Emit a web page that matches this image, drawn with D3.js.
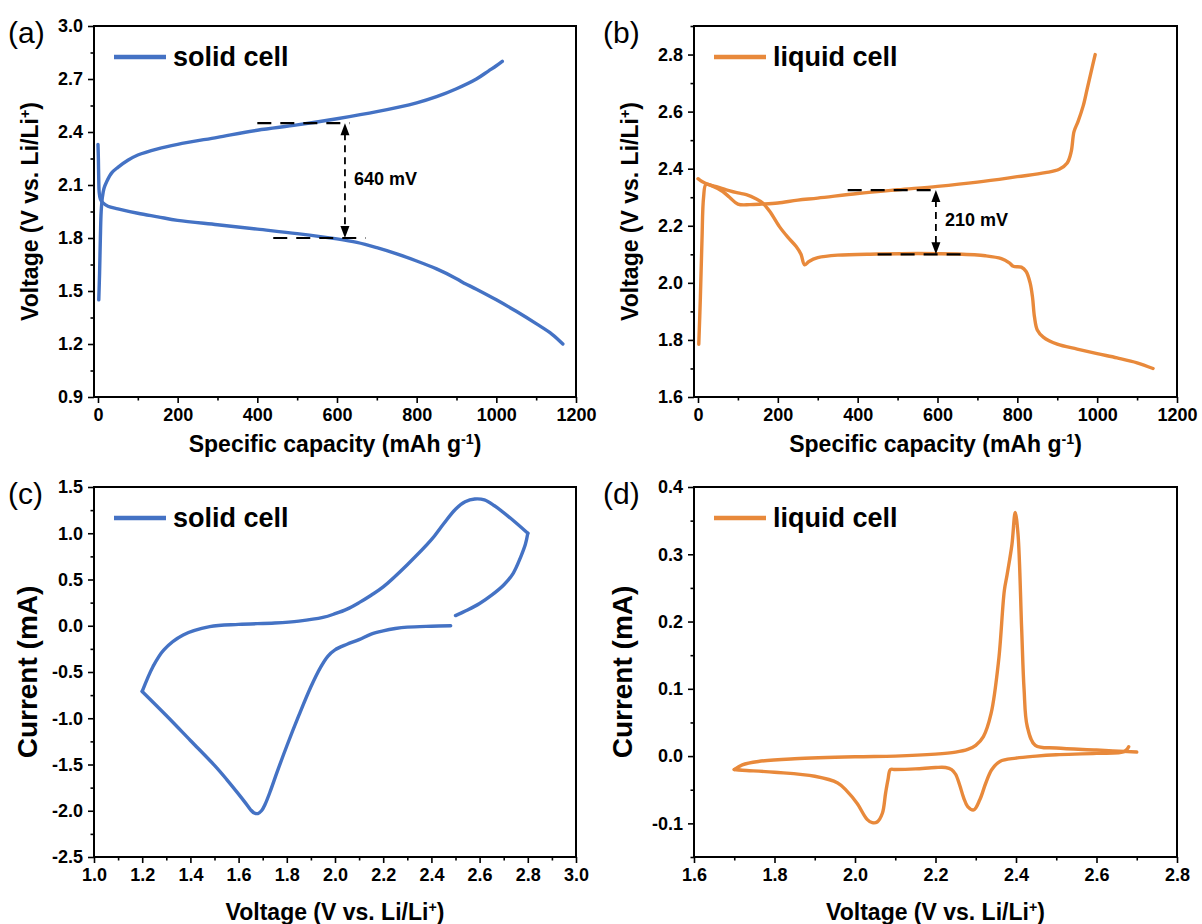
<!DOCTYPE html>
<html>
<head>
<meta charset="utf-8">
<script src="https://cdn.jsdelivr.net/npm/d3@7"></script>
<style>
body { margin: 0; background: #fff; }
svg text { font-family: "Liberation Sans", Arial, sans-serif; fill: #000; }
</style>
</head>
<body>
<svg id="fig" width="1202" height="924"></svg>
<script>
// ---- data ----
// (a) solid cell, galvanostatic curves [capacity mAh/g, voltage V]
var solidDischarge = [[0,2.33],[1,2.25],[2,2.12],[3,2.06],[6,2.02],[12,2.0],[25,1.98],[50,1.965],[100,1.94],[150,1.92],[200,1.90],[300,1.875],[400,1.85],[500,1.825],[600,1.795],[650,1.775],[700,1.745],[750,1.71],[800,1.67],[850,1.625],[900,1.57],[915,1.55],[950,1.51],[1000,1.45],[1050,1.385],[1100,1.315],[1140,1.255],[1167,1.2]];
var solidCharge = [[2,1.45],[4,1.6],[6,1.8],[8,1.95],[11,2.03],[15,2.08],[22,2.12],[35,2.17],[50,2.2],[75,2.24],[100,2.27],[150,2.305],[200,2.33],[300,2.37],[400,2.41],[500,2.44],[600,2.475],[700,2.515],[800,2.565],[850,2.6],[900,2.645],[950,2.70],[980,2.745],[1000,2.775],[1015,2.80]];
// (b) liquid cell
var liquidDischarge = [[0,2.365],[10,2.355],[25,2.345],[50,2.335],[71,2.326],[100,2.315],[121,2.309],[145,2.295],[162,2.28],[180,2.25],[204,2.197],[225,2.16],[246,2.127],[258,2.1],[267,2.063],[278,2.075],[300,2.088],[350,2.097],[450,2.101],[550,2.103],[650,2.101],[720,2.095],[760,2.085],[780,2.07],[790,2.058],[810,2.055],[822,2.04],[832,2.0],[838,1.95],[843,1.88],[850,1.835],[865,1.81],[900,1.785],[950,1.768],[1000,1.752],[1050,1.737],[1100,1.72],[1140,1.70]];
var liquidCharge = [[2,1.785],[6,1.95],[10,2.15],[14,2.3],[20,2.345],[35,2.34],[62,2.32],[79,2.30],[100,2.276],[130,2.274],[160,2.276],[200,2.28],[250,2.29],[300,2.297],[400,2.313],[500,2.326],[600,2.338],[700,2.353],[800,2.372],[870,2.386],[905,2.398],[925,2.42],[935,2.46],[942,2.53],[952,2.565],[965,2.62],[975,2.68],[985,2.74],[995,2.80]];
// (c) solid cell CV [voltage V, current mA], split at the switching potentials
var solidCVdown = [[2.48,0.0],[2.4,-0.005],[2.3,-0.015],[2.25,-0.03],[2.2,-0.055],[2.15,-0.09],[2.1,-0.15],[2.05,-0.2],[2.0,-0.26],[1.97,-0.33],[1.94,-0.45],[1.9,-0.66],[1.85,-0.97],[1.8,-1.3],[1.76,-1.58],[1.73,-1.8],[1.71,-1.93],[1.695,-2.0],[1.68,-2.03],[1.665,-2.025],[1.65,-1.99],[1.63,-1.92],[1.6,-1.82],[1.55,-1.66],[1.5,-1.51],[1.4,-1.24],[1.3,-0.97],[1.2,-0.71]];
var solidCVup = [[1.2,-0.71],[1.245,-0.44],[1.29,-0.26],[1.37,-0.1],[1.48,-0.01],[1.6,0.015],[1.75,0.03],[1.85,0.05],[1.95,0.09],[2.0,0.13],[2.05,0.18],[2.1,0.25],[2.15,0.33],[2.2,0.42],[2.3,0.66],[2.4,0.93],[2.45,1.1],[2.5,1.26],[2.54,1.34],[2.58,1.37],[2.62,1.36],[2.66,1.3],[2.72,1.18],[2.8,1.0]];
var solidCVback = [[2.8,1.0],[2.79,0.88],[2.77,0.74],[2.74,0.57],[2.7,0.44],[2.65,0.33],[2.6,0.24],[2.55,0.17],[2.5,0.11]];
// (d) liquid cell CV
var liquidCVdown = [[2.68,0.014],[2.67,0.007],[2.6,0.004],[2.5,0.002],[2.45,0.0],[2.4,-0.003],[2.36,-0.008],[2.34,-0.02],[2.325,-0.04],[2.31,-0.065],[2.295,-0.08],[2.28,-0.075],[2.27,-0.062],[2.26,-0.043],[2.25,-0.027],[2.24,-0.02],[2.225,-0.017],[2.2,-0.017],[2.15,-0.019],[2.1,-0.02],[2.088,-0.02],[2.082,-0.035],[2.076,-0.055],[2.068,-0.085],[2.055,-0.098],[2.043,-0.099],[2.03,-0.094],[2.005,-0.07],[1.98,-0.052],[1.957,-0.04],[1.9,-0.03],[1.8,-0.024],[1.72,-0.021],[1.7,-0.02]];
var liquidCVup = [[1.7,-0.02],[1.72,-0.013],[1.76,-0.008],[1.85,-0.004],[2.0,-0.001],[2.1,0.0],[2.2,0.003],[2.25,0.006],[2.28,0.01],[2.3,0.016],[2.319,0.029],[2.338,0.063],[2.357,0.143],[2.371,0.246],[2.378,0.27],[2.39,0.315],[2.398,0.362],[2.405,0.33],[2.414,0.19],[2.42,0.1],[2.428,0.044],[2.448,0.016],[2.5,0.012],[2.6,0.009],[2.7,0.006]];

// tick labels
var capTicks = [0,200,400,600,800,1000,1200];
var solidVTicks = [0.9,1.2,1.5,1.8,2.1,2.4,2.7,3.0];
var liquidVTicks = [1.6,1.8,2.0,2.2,2.4,2.6,2.8];
var solidCVxTicks = [1.0,1.2,1.4,1.6,1.8,2.0,2.2,2.4,2.6,2.8,3.0];
var solidCVyTicks = [-2.5,-2.0,-1.5,-1.0,-0.5,0.0,0.5,1.0,1.5];
var liquidCVxTicks = [1.6,1.8,2.0,2.2,2.4,2.6,2.8];
var liquidCVyTicks = [-0.1,0.0,0.1,0.2,0.3,0.4];

// polarization annotations
var solidGapV = [2.45, 1.80], solidGapUpper = [400, 632], solidGapLower = [440, 672], solidGapAt = 620;
var liquidGapV = [2.325, 2.10], liquidGapUpper = [375, 604], liquidGapLower = [450, 679], liquidGapAt = 596;

var blue = "#4472c4", orange = "#e8893b";
var svg = d3.select("#fig");

function minors(ticks, dom) {
    var step = ticks[1] - ticks[0], out = [];
    var lo = Math.min(dom[0], dom[1]), hi = Math.max(dom[0], dom[1]);
    for (var t = ticks[0] - step / 2; t <= hi + 1e-9; t += step) {
        if (t >= lo - 1e-9) out.push(+t.toFixed(6));
    }
    return out;
}

function supText(sel, main, sup, tail) {
    sel.append("tspan").text(main);
    sel.append("tspan").attr("dy", "-0.55em").attr("font-size", "0.62em").text(sup);
    sel.append("tspan").attr("dy", "0.34em").text(tail || "");
}

function drawPanel(p) {
    var g = svg.append("g");
    var x = d3.scaleLinear().domain(p.xDomain).range([p.left, p.right]);
    var y = d3.scaleLinear().domain(p.yDomain).range([p.bottom, p.top]);

    // minor ticks
    g.append("g").attr("transform", "translate(0," + p.bottom + ")")
        .call(d3.axisBottom(x).tickValues(minors(p.xTicks, p.xDomain)).tickSize(3.5).tickSizeOuter(0).tickFormat(""));
    g.append("g").attr("transform", "translate(" + p.left + ",0)")
        .call(d3.axisLeft(y).tickValues(minors(p.yTicks, p.yDomain)).tickSize(3.5).tickSizeOuter(0).tickFormat(""));

    var xa = g.append("g").attr("transform", "translate(0," + p.bottom + ")")
        .call(d3.axisBottom(x).tickValues(p.xTicks).tickSize(6).tickPadding(5).tickSizeOuter(0).tickFormat(p.xFmt));
    var ya = g.append("g").attr("transform", "translate(" + p.left + ",0)")
        .call(d3.axisLeft(y).tickValues(p.yTicks).tickSize(6).tickPadding(5).tickSizeOuter(0).tickFormat(p.yFmt));
    g.selectAll(".tick line").attr("stroke", "#000").attr("stroke-width", 1.6);
    g.selectAll(".domain").attr("stroke", "none");
    [xa, ya].forEach(function (a) {
        a.selectAll("text").attr("font-size", 18).attr("font-weight", "bold").attr("fill", "#000")
            .style("font-family", "'Liberation Sans', Arial, sans-serif");
    });

    g.append("rect").attr("x", p.left).attr("y", p.top)
        .attr("width", p.right - p.left).attr("height", p.bottom - p.top)
        .attr("fill", "none").attr("stroke", "#000").attr("stroke-width", 2);

    var line = d3.line().x(function (d) { return x(d[0]); }).y(function (d) { return y(d[1]); })
        .curve(d3.curveCatmullRom.alpha(0.5));
    p.curves.forEach(function (c) {
        g.append("path").attr("d", line(c)).attr("fill", "none").attr("stroke", p.color)
            .attr("stroke-width", 3.4).attr("stroke-linejoin", "round").attr("stroke-linecap", "round");
    });

    // legend
    g.append("line").attr("x1", p.left + 20).attr("x2", p.left + 72)
        .attr("y1", p.top + 31).attr("y2", p.top + 31)
        .attr("stroke", p.color).attr("stroke-width", 4.5);
    g.append("text").attr("x", p.left + 79).attr("y", p.top + 40)
        .attr("font-size", 27).attr("font-weight", "bold").text(p.legend);

    // panel letter
    g.append("text").attr("x", p.left - (p.left > 600 ? 91 : 86)).attr("y", p.top + 17)
        .attr("font-size", 30).text(p.letter);

    // axis titles
    var cx = (p.left + p.right) / 2, cy = (p.top + p.bottom) / 2;
    var xt = g.append("text").attr("x", cx).attr("y", p.xTitleY).attr("text-anchor", "middle")
        .attr("font-size", 23).attr("font-weight", "bold");
    supText(xt, p.xTitle[0], p.xTitle[1], p.xTitle[2]);
    var yt = g.append("text").attr("transform", "translate(" + (p.left - p.yTitleOff) + "," + cy + ") rotate(-90)")
        .attr("text-anchor", "middle").attr("font-size", p.yTitleSize).attr("font-weight", "bold");
    if (p.yTitle.length > 1) supText(yt, p.yTitle[0], p.yTitle[1], p.yTitle[2]);
    else yt.text(p.yTitle[0]);

    // polarization gap
    if (p.gap) {
        var gp = p.gap;
        [[gp.upper, gp.v[0]], [gp.lower, gp.v[1]]].forEach(function (h) {
            g.append("line").attr("x1", x(h[0][0])).attr("x2", x(h[0][1]))
                .attr("y1", y(h[1])).attr("y2", y(h[1]))
                .attr("stroke", "#000").attr("stroke-width", 2.2).attr("stroke-dasharray", "14,9");
        });
        var ax = x(gp.at), ya1 = y(gp.v[0]), ya2 = y(gp.v[1]);
        g.append("line").attr("x1", ax).attr("x2", ax).attr("y1", ya1 + 10).attr("y2", ya2 - 10)
            .attr("stroke", "#000").attr("stroke-width", 1.8).attr("stroke-dasharray", "7,5");
        g.append("path").attr("d", "M" + ax + "," + ya1 + "l-4.5,12h9z").attr("fill", "#000");
        g.append("path").attr("d", "M" + ax + "," + ya2 + "l-4.5,-12h9z").attr("fill", "#000");
        g.append("text").attr("x", ax + 9).attr("y", (ya1 + ya2) / 2 + 4)
            .attr("font-size", 18).attr("font-weight", "bold").text(gp.label);
    }
}

var f1 = function (d) { return d.toFixed(1); };
var f0 = function (d) { return String(d); };
var capTitle = ["Specific capacity (mAh g", "-1", ")"];
var vTitle = ["Voltage (V vs. Li/Li", "+", ")"];

drawPanel({
    left: 94, right: 576, top: 26, bottom: 397,
    xDomain: [-10, 1200], yDomain: [0.9, 3.0],
    xTicks: capTicks, yTicks: solidVTicks, xFmt: f0, yFmt: f1,
    curves: [solidDischarge, solidCharge], color: blue, legend: "solid cell", letter: "(a)",
    xTitle: capTitle, xTitleY: 452, yTitle: vTitle, yTitleOff: 56, yTitleSize: 23,
    gap: { v: solidGapV, upper: solidGapUpper, lower: solidGapLower, at: solidGapAt, label: "640 mV" }
});
drawPanel({
    left: 694, right: 1177, top: 26, bottom: 397,
    xDomain: [-10, 1200], yDomain: [1.6, 2.9],
    xTicks: capTicks, yTicks: liquidVTicks, xFmt: f0, yFmt: f1,
    curves: [liquidDischarge, liquidCharge], color: orange, legend: "liquid cell", letter: "(b)",
    xTitle: capTitle, xTitleY: 452, yTitle: vTitle, yTitleOff: 56, yTitleSize: 23,
    gap: { v: liquidGapV, upper: liquidGapUpper, lower: liquidGapLower, at: liquidGapAt, label: "210 mV" }
});
drawPanel({
    left: 94, right: 576, top: 487, bottom: 857,
    xDomain: [1.0, 3.0], yDomain: [-2.5, 1.5],
    xTicks: solidCVxTicks, yTicks: solidCVyTicks, xFmt: f1, yFmt: f1,
    curves: [solidCVdown, solidCVup, solidCVback], color: blue, legend: "solid cell", letter: "(c)",
    xTitle: vTitle, xTitleY: 920, yTitle: ["Current (mA)"], yTitleOff: 57, yTitleSize: 28
});
drawPanel({
    left: 694, right: 1177, top: 487, bottom: 857,
    xDomain: [1.6, 2.8], yDomain: [-0.15, 0.4],
    xTicks: liquidCVxTicks, yTicks: liquidCVyTicks, xFmt: f1, yFmt: f1,
    curves: [liquidCVdown, liquidCVup], color: orange, legend: "liquid cell", letter: "(d)",
    xTitle: vTitle, xTitleY: 920, yTitle: ["Current (mA)"], yTitleOff: 62, yTitleSize: 28
});
</script>
</body>
</html>
